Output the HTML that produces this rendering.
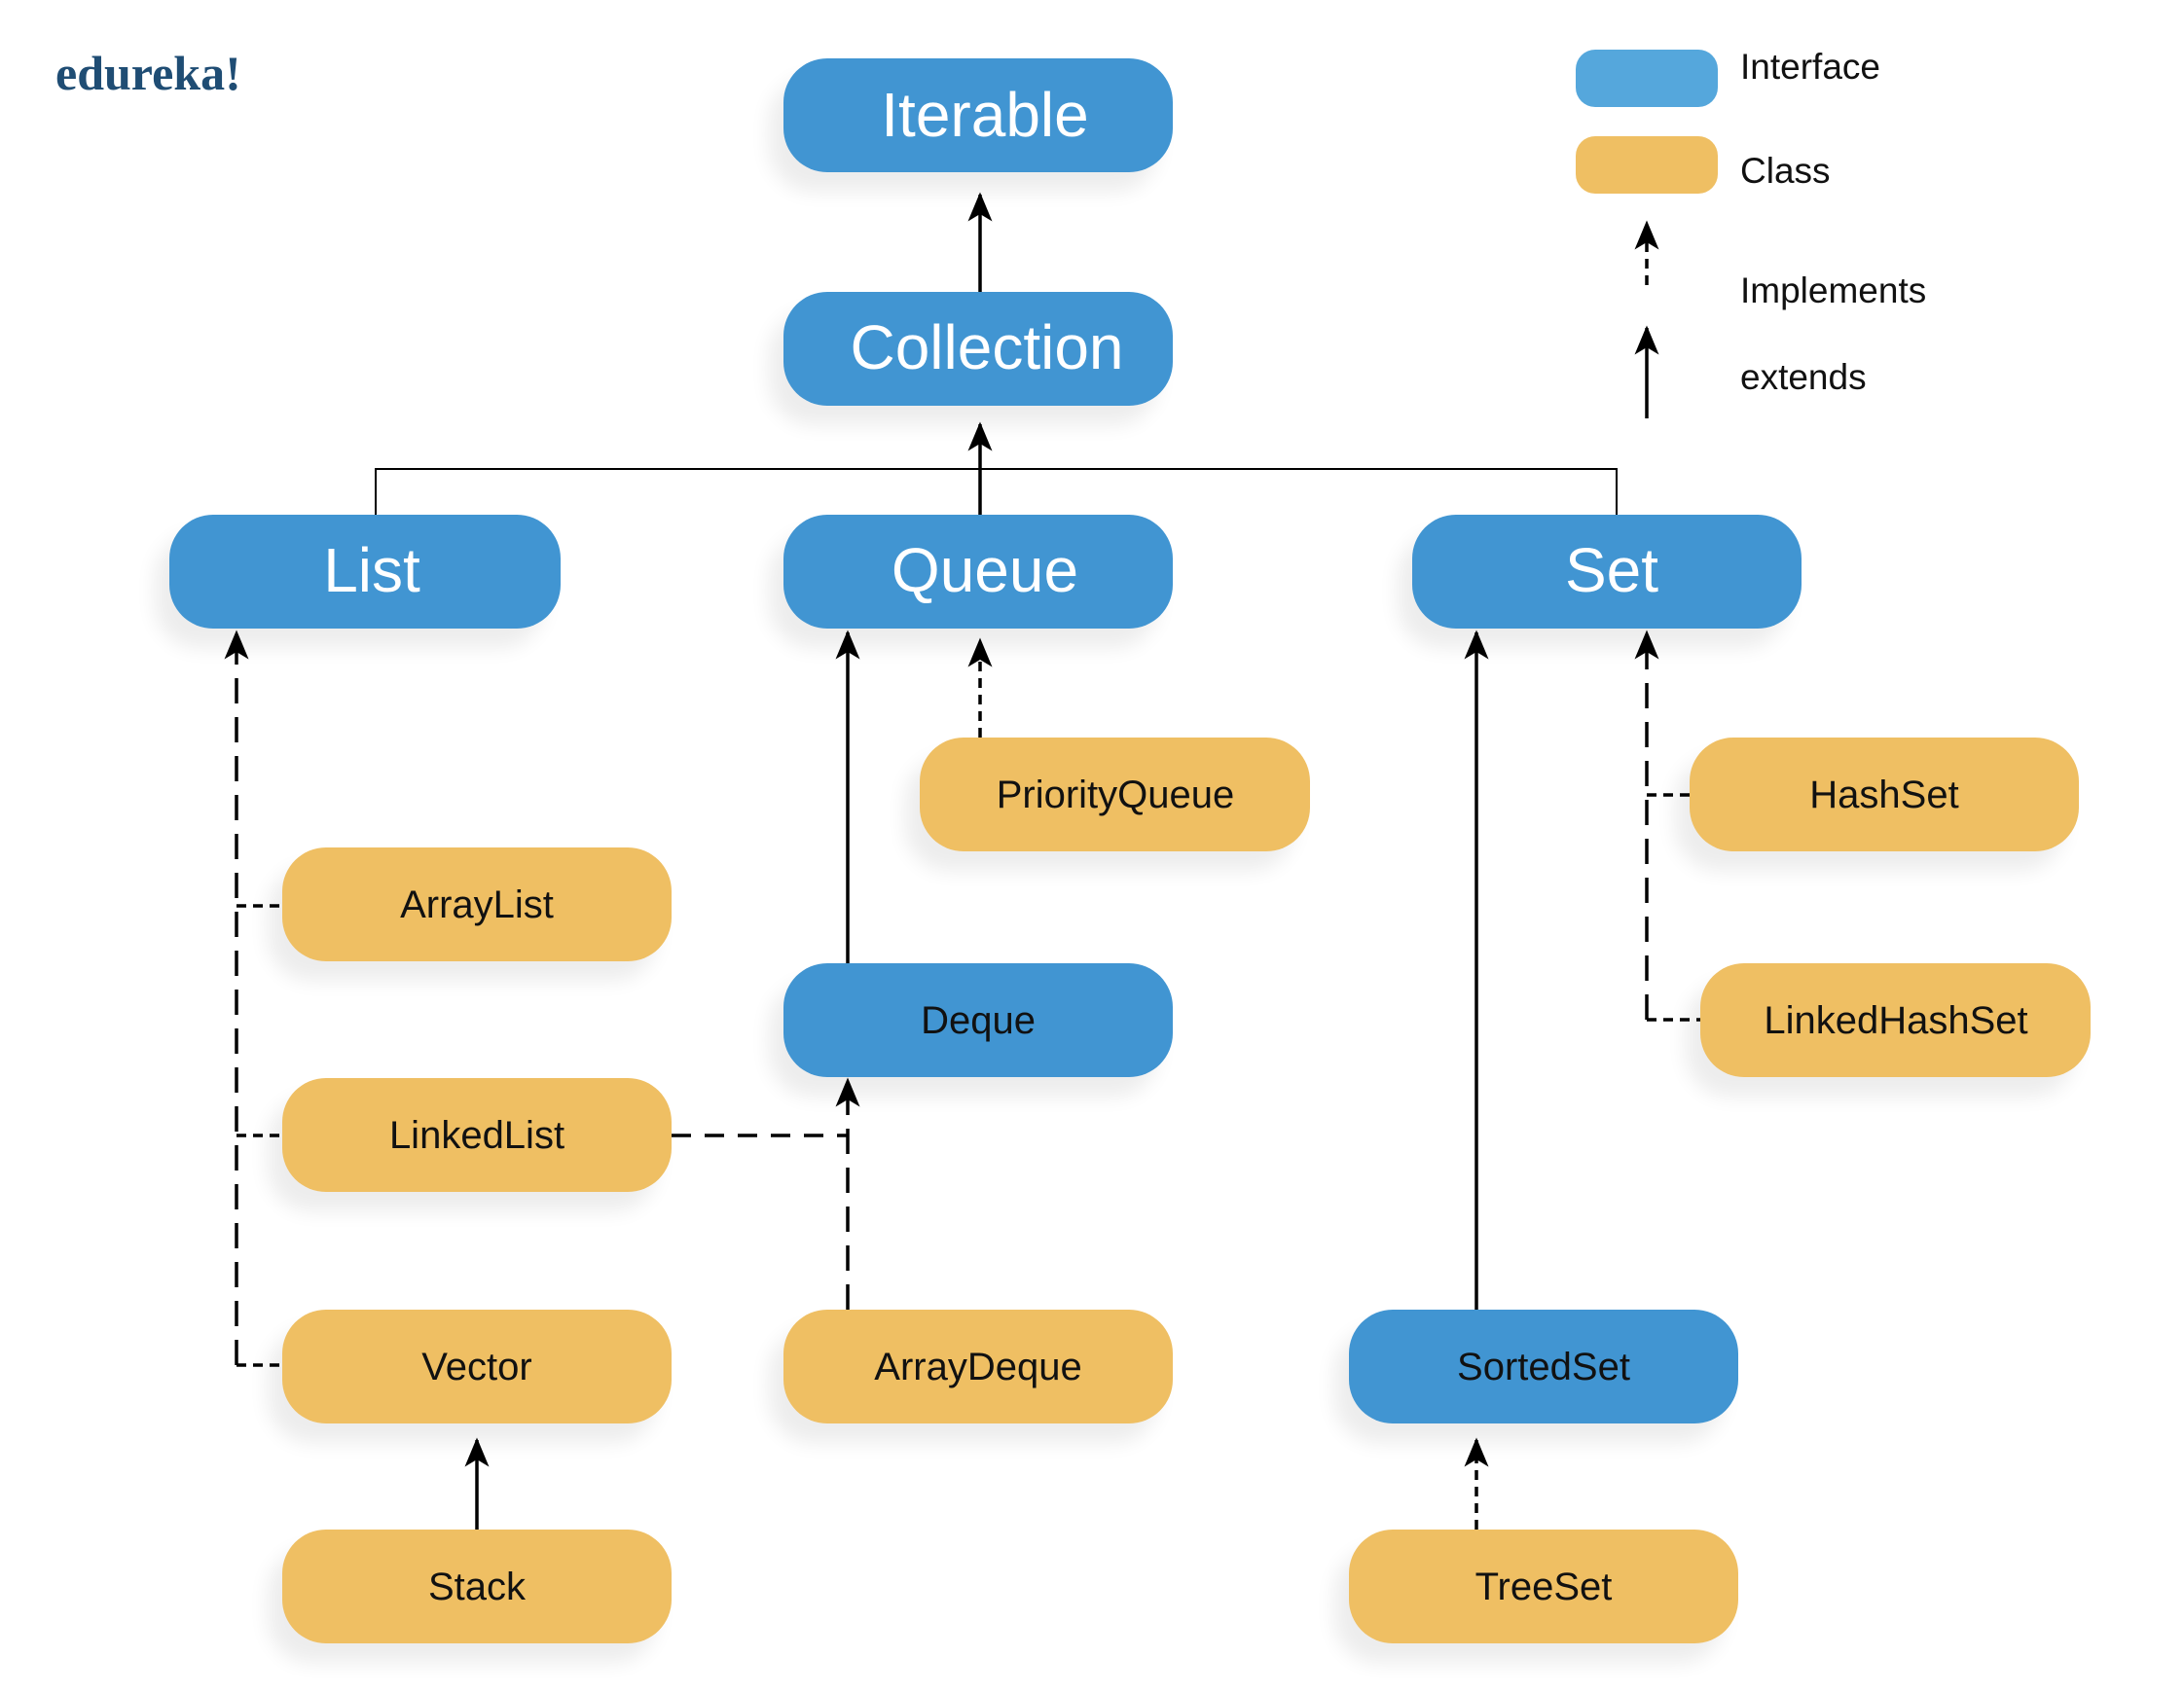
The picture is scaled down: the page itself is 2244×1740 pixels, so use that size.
<!DOCTYPE html>
<html><head><meta charset="utf-8"><style>
html,body{margin:0;padding:0;background:#fff;}
svg{display:block;}
text{font-family:"Liberation Sans",sans-serif;}
</style></head><body>
<svg width="2244" height="1740" viewBox="0 0 2244 1740" xmlns="http://www.w3.org/2000/svg">
<defs>
<marker id="ah" viewBox="0 0 24 20" refX="22" refY="10" markerWidth="30" markerHeight="26" markerUnits="userSpaceOnUse" orient="auto">
<path d="M24 10 L0 0 L6 10 L0 20 Z" fill="#000"/>
</marker>
<filter id="sh" x="-20%" y="-20%" width="140%" height="160%"><feGaussianBlur stdDeviation="10"/></filter>
</defs>
<text x="57" y="92" font-weight="bold" font-size="50" fill="#1f4d74" style="font-family:'Liberation Serif',serif">edureka!</text>

<g fill="#000" opacity="0.07" filter="url(#sh)">
<rect x="790" y="80" width="400" height="117" rx="45"/>
<rect x="790" y="320" width="400" height="117" rx="45"/>
<rect x="159" y="549" width="400" height="117" rx="45"/>
<rect x="790" y="549" width="400" height="117" rx="45"/>
<rect x="1436" y="549" width="400" height="117" rx="45"/>
<rect x="930" y="778" width="400" height="117" rx="45"/>
<rect x="1721" y="778" width="400" height="117" rx="45"/>
<rect x="275" y="891" width="400" height="117" rx="45"/>
<rect x="790" y="1010" width="400" height="117" rx="45"/>
<rect x="1732" y="1010" width="400" height="117" rx="45"/>
<rect x="275" y="1128" width="400" height="117" rx="45"/>
<rect x="275" y="1366" width="400" height="117" rx="45"/>
<rect x="790" y="1366" width="400" height="117" rx="45"/>
<rect x="1371" y="1366" width="400" height="117" rx="45"/>
<rect x="275" y="1592" width="400" height="117" rx="45"/>
<rect x="1371" y="1592" width="400" height="117" rx="45"/>
</g>

<g stroke="#000" fill="none" stroke-width="3.5">
<line x1="1007" y1="300" x2="1007" y2="200" marker-end="url(#ah)"/>
<line x1="1007" y1="529" x2="1007" y2="436" marker-end="url(#ah)"/>
<polyline points="386,529 386,482 1661,482 1661,529" stroke-width="2"/>
<line x1="243" y1="1403" x2="243" y2="650" stroke-dasharray="26,14" marker-end="url(#ah)"/>
<line x1="243" y1="931" x2="290" y2="931" stroke-dasharray="10,7"/>
<line x1="243" y1="1167" x2="290" y2="1167" stroke-dasharray="10,7"/>
<line x1="243" y1="1403" x2="290" y2="1403" stroke-dasharray="10,7"/>
<line x1="871" y1="990" x2="871" y2="650" marker-end="url(#ah)"/>
<line x1="1007" y1="758" x2="1007" y2="658" stroke-dasharray="10,7" marker-end="url(#ah)"/>
<line x1="871" y1="1346" x2="871" y2="1110" stroke-dasharray="26,14" marker-end="url(#ah)"/>
<line x1="690" y1="1167" x2="871" y2="1167" stroke-dasharray="20,14"/>
<line x1="1517" y1="1346" x2="1517" y2="650" marker-end="url(#ah)"/>
<line x1="1692" y1="1048" x2="1692" y2="650" stroke-dasharray="26,14" marker-end="url(#ah)"/>
<line x1="1692" y1="817" x2="1736" y2="817" stroke-dasharray="10,7"/>
<line x1="1692" y1="1048" x2="1747" y2="1048" stroke-dasharray="10,7"/>
<line x1="490" y1="1572" x2="490" y2="1480" marker-end="url(#ah)"/>
<line x1="1517" y1="1572" x2="1517" y2="1480" stroke-dasharray="10,7" marker-end="url(#ah)"/>
<line x1="1692" y1="293" x2="1692" y2="229" stroke-dasharray="10,7" marker-end="url(#ah)"/>
<line x1="1692" y1="430" x2="1692" y2="337" marker-end="url(#ah)"/>
</g>

<rect x="1619" y="51" width="146" height="59" rx="20" fill="#55a7dc"/>
<rect x="1619" y="140" width="146" height="59" rx="20" fill="#efbf63"/>
<g font-size="37" fill="#111">
<text x="1788" y="81">Interface</text>
<text x="1788" y="188">Class</text>
<text x="1788" y="311">Implements</text>
<text x="1788" y="400">extends</text>
</g>

<g fill="#4195d2">
<rect x="805" y="60" width="400" height="117" rx="45"/>
<rect x="805" y="300" width="400" height="117" rx="45"/>
<rect x="174" y="529" width="402" height="117" rx="45"/>
<rect x="805" y="529" width="400" height="117" rx="45"/>
<rect x="1451" y="529" width="400" height="117" rx="45"/>
<rect x="805" y="990" width="400" height="117" rx="45"/>
<rect x="1386" y="1346" width="400" height="117" rx="45"/>
</g>
<g fill="#efbf63">
<rect x="945" y="758" width="401" height="117" rx="45"/>
<rect x="1736" y="758" width="400" height="117" rx="45"/>
<rect x="290" y="871" width="400" height="117" rx="45"/>
<rect x="1747" y="990" width="401" height="117" rx="45"/>
<rect x="290" y="1108" width="400" height="117" rx="45"/>
<rect x="290" y="1346" width="400" height="117" rx="45"/>
<rect x="805" y="1346" width="400" height="117" rx="45"/>
<rect x="290" y="1572" width="400" height="117" rx="45"/>
<rect x="1386" y="1572" width="400" height="117" rx="45"/>
</g>

<g font-size="64" fill="#fff" text-anchor="middle">
<text x="1012" y="140">Iterable</text>
<text x="1014" y="379">Collection</text>
<text x="382" y="608">List</text>
<text x="1012" y="608">Queue</text>
<text x="1656" y="608">Set</text>
</g>
<g font-size="40" fill="#111" text-anchor="middle">
<text x="1146" y="830">PriorityQueue</text>
<text x="1936" y="830">HashSet</text>
<text x="490" y="943">ArrayList</text>
<text x="1005" y="1062">Deque</text>
<text x="1948" y="1062">LinkedHashSet</text>
<text x="490" y="1180">LinkedList</text>
<text x="490" y="1418">Vector</text>
<text x="1005" y="1418">ArrayDeque</text>
<text x="1586" y="1418">SortedSet</text>
<text x="490" y="1644">Stack</text>
<text x="1586" y="1644">TreeSet</text>
</g>
</svg>
</body></html>
